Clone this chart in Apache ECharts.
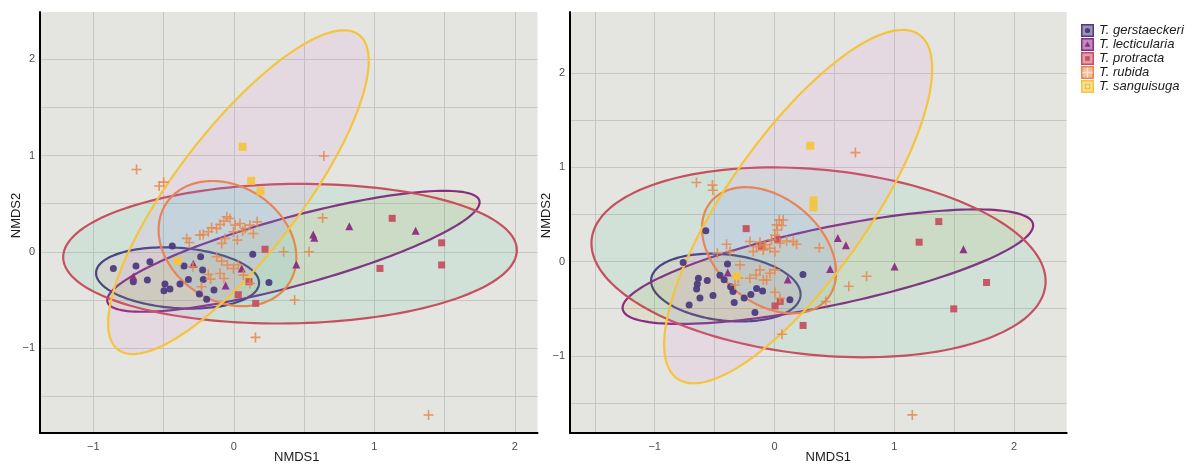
<!DOCTYPE html>
<html>
<head>
<meta charset="utf-8">
<script src="https://cdn.jsdelivr.net/npm/echarts@6/dist/echarts.min.js"></script>
<style>
  html, body { margin: 0; padding: 0; background: #ffffff; }
  #chart { width: 1193px; height: 466px; }
</style>
</head>
<body>
<div id="chart"></div>
<script>
// Species (groups) shown in both ordinations
const species = ['T. gerstaeckeri', 'T. lecticularia', 'T. protracta', 'T. rubida', 'T. sanguisuga'];

// Axis tick labels and grid steps (both axes)
const tickLabels = [-1, 0, 1, 2];
const gridSteps = [-1.5, -1, -0.5, 0, 0.5, 1, 1.5, 2];

// ---- Left ordination: site scores ----
const leftGerstaeckeri = [[-0.857,-0.173],[-0.696,-0.148],[-0.597,-0.103],[-0.715,-0.311],[-0.615,-0.294],[-0.438,0.059],[-0.490,-0.335],[-0.454,-0.387],[-0.497,-0.404],[-0.383,-0.335],[-0.354,-0.148],[-0.323,-0.287],[-0.236,-0.051],[-0.222,-0.190],[-0.217,-0.287],[-0.245,-0.439],[-0.193,-0.494],[-0.141,-0.398],[0.135,-0.027],[0.250,-0.318]];
const leftLecticularia = [[-0.715,-0.258],[-0.288,-0.125],[-0.058,-0.350],[0.056,-0.173],[0.445,-0.131],[0.565,0.180],[0.573,0.145],[0.822,0.266],[1.294,0.218]];
const leftProtracta = [[0.222,0.026],[0.108,-0.311],[0.032,-0.446],[0.156,-0.536],[1.127,0.347],[1.479,0.093],[1.040,-0.173],[1.479,-0.137]];
const leftRubida = [[-0.692,0.855],[-0.531,0.683],[-0.499,0.723],[0.641,0.994],[0.632,0.352],[0.355,0.0],[0.535,0.0],[0.433,-0.501],[0.154,-0.889],[1.386,-1.695],
  [-0.050,0.363],[-0.070,0.318],[-0.027,0.346],[-0.098,0.284],[-0.122,0.242],[-0.158,0.249],[-0.181,0.208],[-0.217,0.180],[0.009,0.277],[0.044,0.294],
  [0.080,0.242],[0.115,0.277],[0.139,0.190],[-0.003,0.208],[0.025,0.121],[-0.063,0.139],[-0.086,0.087],[-0.335,0.139],[-0.316,0.097],[-0.122,-0.052],
  [-0.086,-0.097],[-0.045,-0.138],[-0.003,-0.173],[0.032,-0.138],[-0.181,-0.235],[-0.165,-0.284],[-0.098,-0.225],[-0.070,-0.277],[-0.229,-0.364],[0.068,-0.242],
  [-0.291,-0.156],[0.115,-0.329],[0.166,0.311],[-0.241,0.173],[0.063,0.218]];
const leftSanguisuga = [[0.063,1.090],[0.124,0.736],[0.190,0.628],[-0.400,-0.095]];

// ---- Right ordination: site scores ----
const rightGerstaeckeri = [[-0.573,0.328],[-0.762,-0.010],[-0.392,-0.026],[-0.455,-0.145],[-0.420,-0.194],[-0.635,-0.177],[-0.644,-0.237],[-0.650,-0.292],[-0.561,-0.200],[-0.622,-0.386],[-0.513,-0.360],[-0.712,-0.460],[-0.366,-0.268],[-0.346,-0.318],[-0.336,-0.434],[-0.253,-0.386],[-0.197,-0.350],[-0.149,-0.287],[-0.099,-0.311],[-0.163,-0.540],[0.129,-0.404],[0.238,-0.138]];
const rightLecticularia = [[-0.390,-0.115],[0.111,-0.190],[0.529,0.250],[0.597,0.174],[0.465,-0.080],[1.003,-0.053],[1.578,0.131]];
const rightProtracta = [[-0.236,0.350],[0.027,0.237],[-0.107,0.159],[0.005,-0.471],[0.048,-0.423],[0.239,-0.678],[1.208,0.206],[1.372,0.425],[1.771,-0.222],[1.497,-0.502]];
const rightRubida = [[-0.651,0.839],[-0.518,0.812],[-0.514,0.757],[0.676,1.157],[1.151,-1.628],[0.062,-0.772],[0.375,0.146],[0.428,-0.424],[0.621,-0.262],[0.769,-0.155],
  [0.040,0.443],[0.018,0.390],[0.060,0.383],[0.024,0.336],[0.004,0.283],[-0.205,0.213],[-0.121,0.205],[-0.079,0.177],[-0.024,0.230],[0.046,0.195],
  [0.102,0.219],[0.185,0.184],[-0.038,0.142],[0.004,0.106],[-0.149,0.159],[-0.177,0.106],[-0.400,0.184],[-0.371,0.106],[-0.288,-0.035],[-0.121,-0.088],
  [-0.154,-0.142],[-0.205,-0.177],[-0.065,-0.195],[-0.038,-0.124],[0.004,-0.088],[-0.302,-0.177],[-0.330,-0.248],[0.004,-0.326],[0.046,-0.390],[-0.476,0.088],
  [0.073,0.442],[0.157,0.212],[-0.093,0.124],[-0.093,-0.195]];
const rightSanguisuga = [[0.299,1.230],[0.326,0.650],[0.326,0.575],[-0.316,-0.155]];

// ---- 95% ellipses: centre (cx, cy), half-extent in x and y, correlation ----
const leftEllipses = [
  [-0.400, -0.272, 0.580, 0.318, -0.16],
  [ 0.424,  0.005, 1.325, 0.628,  0.81],
  [ 0.400, -0.020, 1.614, 0.725,  0.05],
  [-0.045,  0.085, 0.490, 0.650, -0.22],
  [ 0.033,  0.619, 0.927, 1.681,  0.81]
];
const rightEllipses = [
  [-0.406, -0.276, 0.624, 0.360, -0.20],
  [ 0.446, -0.054, 1.714, 0.608,  0.72],
  [ 0.368, -0.008, 1.896, 1.008, -0.20],
  [-0.045,  0.120, 0.560, 0.670, -0.35],
  [ 0.198,  0.584, 1.119, 1.876,  0.78]
];

// Styling per species
const markColors = ['#4c3b80', '#8a2c84', '#c6505f', '#e8874a', '#f4c43e'];
const ellipseFills = ['rgba(248,118,109,0.09)', 'rgba(163,165,0,0.09)', 'rgba(0,191,125,0.08)', 'rgba(0,176,246,0.08)', 'rgba(231,107,243,0.09)'];
const plusPath = 'path://M4.2,0H5.8V4.2H10V5.8H5.8V10H4.2V5.8H0V4.2H4.2Z';
const markSymbols = ['circle', 'triangle', 'rect', plusPath, 'rect'];
const markSizes = [7, 8, 7, 10, 8];

const leftPoints = [leftGerstaeckeri, leftLecticularia, leftProtracta, leftRubida, leftSanguisuga];
const rightPoints = [rightGerstaeckeri, rightLecticularia, rightProtracta, rightRubida, rightSanguisuga];

function minusFmt(v) {
  return v < 0 ? '\u2212' + Math.abs(v) : String(v);
}

function makeEllipseRenderer(i) {
  return function (params, api) {
    const cx = api.value(0), cy = api.value(1), wx = api.value(2), wy = api.value(3), r = api.value(4);
    const k = Math.sqrt(1 - r * r);
    const pts = [];
    const n = 160;
    for (let j = 0; j < n; j++) {
      const t = j / n * Math.PI * 2;
      pts.push(api.coord([cx + wx * Math.cos(t), cy + wy * (r * Math.cos(t) + k * Math.sin(t))]));
    }
    return {
      type: 'polygon',
      shape: { points: pts },
      style: { fill: ellipseFills[i], stroke: markColors[i], lineWidth: 2.2 }
    };
  };
}

function legendIcon(i) {
  const c = markColors[i];
  let inner = '';
  if (i === 0) inner = `<circle cx="6.5" cy="6.5" r="2.6" fill="${c}"/>`;
  if (i === 1) inner = `<path d="M6.5,3.4 L9.4,8.8 L3.6,8.8 Z" fill="${c}"/>`;
  if (i === 2) inner = `<rect x="4.2" y="4.2" width="4.6" height="4.6" fill="${c}"/>`;
  if (i === 3) inner = `<path d="M6.5,1.5 V11.5 M1.5,6.5 H11.5" stroke="#fbe3d2" stroke-width="1.3"/>`;
  if (i === 4) inner = `<rect x="4.3" y="4.3" width="4.4" height="4.4" fill="none" stroke="#e8b830" stroke-width="0.9"/>`;
  const svg = `<svg xmlns="http://www.w3.org/2000/svg" width="13" height="13" viewBox="0 0 13 13">` +
    `<rect x="0.75" y="0.75" width="11.5" height="11.5" fill="${c}" fill-opacity="0.55" stroke="${c}" stroke-width="1.5"/>` +
    inner + `</svg>`;
  return 'image://data:image/svg+xml;charset=utf-8,' + encodeURIComponent(svg);
}

const font = 'Liberation Sans, Arial, Helvetica, sans-serif';

function makeXAxis(gridIndex, min, max, padLeft) {
  return {
    type: 'value', gridIndex, min, max,
    name: 'NMDS1', nameLocation: 'middle', nameGap: 18, nameMoveOverlap: false,
    nameTextStyle: { fontFamily: font, fontSize: 13, color: '#1a1a1a', padding: [0, 0, 0, padLeft] },
    axisLine: { show: true, onZero: false, lineStyle: { color: '#000', width: 2 } },
    axisTick: { show: false, customValues: gridSteps },
    axisLabel: { customValues: tickLabels, formatter: minusFmt, fontFamily: font, fontSize: 11, color: '#4d4d4d', margin: 8 },
    splitLine: { show: true, lineStyle: { color: '#c6c6c2', width: 1 } }
  };
}
function makeYAxis(gridIndex, min, max) {
  return {
    type: 'value', gridIndex, min, max,
    name: 'NMDS2', nameLocation: 'middle', nameGap: 17, nameRotate: 90, nameMoveOverlap: false,
    nameTextStyle: { fontFamily: font, fontSize: 13, color: '#1a1a1a', padding: [0, 0, 0, 14] },
    axisLine: { show: true, onZero: false, lineStyle: { color: '#000', width: 2 } },
    axisTick: { show: false, customValues: gridSteps },
    axisLabel: { customValues: tickLabels, formatter: minusFmt, fontFamily: font, fontSize: 11, color: '#4d4d4d', margin: 5 },
    splitLine: { show: true, lineStyle: { color: '#c6c6c2', width: 1 } }
  };
}

const series = [];
[[leftEllipses, leftPoints], [rightEllipses, rightPoints]].forEach(([ells, pts], g) => {
  species.forEach((name, i) => {
    series.push({
      type: 'custom', name, xAxisIndex: g, yAxisIndex: g,
      dimensions: ['cx', 'cy', 'wx', 'wy', 'r'],
      encode: { x: 'cx', y: 'cy' },
      renderItem: makeEllipseRenderer(i),
      data: [ells[i]],
      silent: true, z: 2
    });
  });
  species.forEach((name, i) => {
    series.push({
      type: 'scatter', name, xAxisIndex: g, yAxisIndex: g,
      symbol: markSymbols[i], symbolSize: markSizes[i],
      itemStyle: { color: markColors[i], opacity: i === 3 ? 0.85 : 0.95 },
      data: pts[i], z: 3
    });
  });
});

const chart = echarts.init(document.getElementById('chart'), null, { renderer: 'canvas' });
chart.setOption({
  backgroundColor: '#ffffff',
  animation: false,
  textStyle: { fontFamily: font },
  legend: {
    orient: 'vertical', left: 1081, top: 24, padding: 0,
    itemWidth: 13, itemHeight: 13, itemGap: 1,
    textStyle: { fontFamily: font, fontStyle: 'italic', fontSize: 13, color: '#1a1a1a' },
    data: species.map((name, i) => ({ name, icon: legendIcon(i) }))
  },
  grid: [
    { left: 40, top: 12, width: 497.5, height: 421, show: true, backgroundColor: '#e4e4e0', borderWidth: 0, outerBoundsMode: 'none', containLabel: false },
    { left: 570, top: 12, width: 496.7, height: 421, show: true, backgroundColor: '#e4e4e0', borderWidth: 0, outerBoundsMode: 'none', containLabel: false }
  ],
  xAxis: [makeXAxis(0, -1.379, 2.161, 16), makeXAxis(1, -1.707, 2.44, 20)],
  yAxis: [makeYAxis(0, -1.882, 2.49), makeYAxis(1, -1.82, 2.65)],
  series
});
</script>
</body>
</html>
